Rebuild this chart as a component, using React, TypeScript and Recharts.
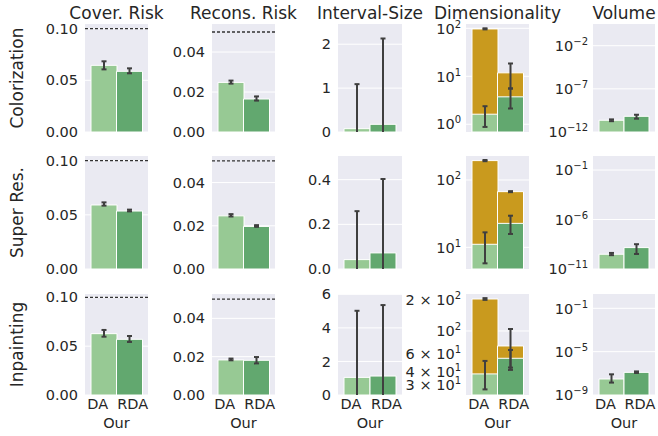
import React from 'react';
import { BarChart, Bar, XAxis, YAxis, CartesianGrid, ErrorBar, Cell, ReferenceLine } from 'recharts';

const tasks = ['Colorization', 'Super Res.', 'Inpainting'];
const metrics = ['Cover. Risk', 'Recons. Risk', 'Interval-Size', 'Dimensionality', 'Volume'];
const methods = ['DA', 'RDA'];
const groupLabel = 'Our';

// values are [task][method], CIs are [task][method] = [low, high]
const coverRisk = [[0.0645, 0.0587], [0.0591, 0.0535], [0.0628, 0.057]];
const coverRiskCI = [
  [[0.0606, 0.0684], [0.0568, 0.0616]],
  [[0.0585, 0.0615], [0.0532, 0.0548]],
  [[0.0597, 0.0666], [0.0543, 0.0604]],
];
const coverTarget = 0.1;

const reconsRisk = [[0.0248, 0.0165], [0.0246, 0.0197], [0.0183, 0.0181]];
const reconsRiskCI = [
  [[0.0242, 0.0257], [0.0157, 0.0178]],
  [[0.0243, 0.0254], [0.0195, 0.0203]],
  [[0.0181, 0.019], [0.0165, 0.0198]],
];
const reconsTarget = 0.05;

const intervalSize = [[0.076, 0.175], [0.042, 0.072], [1.05, 1.13]];
const intervalSizeCI = [
  [[-0.94, 1.09], [-1.78, 2.13]],
  [[-0.175, 0.259], [-0.259, 0.403]],
  [[-2.92, 5.02], [-3.1, 5.36]],
];

const dimension = [[1.62, 3.73], [11.1, 22.7], [38.4, 54.4]];
const dimensionCI = [
  [[0.88, 2.38], [2.13, 5.57]],
  [[5.79, 16.7], [15.8, 29.5]],
  [[27.2, 51.3], [42, 65.5]],
];
const dimensionTotal = [[97, 11.8], [194, 67.1], [204, 71.6]];
const dimensionTotalCI = [
  [[95, 100], [5.57, 18.5]],
  [[190, 198], [66, 68.3]],
  [[200, 208], [44.2, 104.5]],
];

const volume = [[2.3e-11, 6.6e-11], [3.1e-10, 1.45e-9], [3.0e-8, 1.23e-7]];
const volumeCI = [
  [[1.8e-11, 2.9e-11], [3.5e-11, 1.0e-10]],
  [[2.5e-10, 4.2e-10], [3.3e-10, 3.2e-9]],
  [[1.4e-8, 8.1e-8], [1.07e-7, 1.5e-7]],
];

// axis limits and ticks
const coverTop = [0.1045, 0.1043, 0.1034];
const reconsTop = [0.054, 0.0523, 0.0527];
const intervalTop = [2.46, 0.506, 6.02];
const dimDomain = [[0.69, 123], [4.77, 227], [24, 228]];
const volDomain = [[1e-12, 3.3], [1e-11, 2.6], [1e-9, 2.1]];

const coverTicks = [0, 0.05, 0.1];
const reconsTicks = [0, 0.02, 0.04];
const intervalTicks = [[0, 1, 2], [0, 0.2, 0.4], [0, 2, 4, 6]];
const dimTicks = [[1, 10, 100], [10, 100], [30, 40, 60, 100, 200]];
const dimGrid = [[1, 10, 100], [10, 100], [100]];
const volTicks = [[1e-12, 1e-7, 1e-2], [1e-11, 1e-6, 1e-1], [1e-9, 1e-5, 1e-1]];

// layout
const colLeft = [85, 212, 338, 466, 593];
const colWidth = [63, 63, 64, 63, 62];
const rowTop = [24, 156, 294];
const rowHeight = [108, 113, 101];
const AXW = 80;
const PAD = 8;

const INK = '#262626';
const LIGHT = '#97C994';
const DARK = '#62A86F';
const GOLD = '#C99A1E';
const ERR = '#3F3F3F';
const FONT = "'DejaVu Sans', sans-serif";

const LogTick = (props: any) => {
  const { x, y, payload } = props;
  const v = payload.value;
  const e = Math.floor(Math.log10(v) + 1e-9);
  const m = Math.round(v / Math.pow(10, e));
  const exp = e < 0 ? '\u2212' + Math.abs(e) : String(e);
  return (
    <text x={x + 2} y={y} dy="0.36em" textAnchor="end" fill={INK} fontSize={14.5}>
      {m !== 1 ? `${m} \u00d7 10` : '10'}
      <tspan dy={-6} fontSize={10}>{exp}</tspan>
    </text>
  );
};

// method labels sit a little wider apart than the bar centres
const MethodTick = (props: any) => {
  const { x, y, payload, index } = props;
  return (
    <text x={x + (index === 0 ? -6 : 3.5)} y={y} dy="0.71em" textAnchor="middle" fill={INK} fontSize={14.5}>
      {payload.value}
    </text>
  );
};

interface Series {
  values: number[];
  ci: number[][];
  colors: string[];
}

interface PanelProps {
  row: number;
  col: number;
  series: Series[];
  domain: number[];
  log?: boolean;
  ticks: number[];
  grid: number[];
  digits?: number;
  target?: number;
}

const Panel = ({ row, col, series, domain, log, ticks, grid, digits, target }: PanelProps) => {
  const isBottom = row === tasks.length - 1;
  const below = isBottom ? 45 : 10;
  const w = AXW + colWidth[col] + 4;
  const h = PAD + rowHeight[row] + below;
  const cid = `eclip-${row}-${col}`;
  const data = methods.map((name, i) => {
    const o: any = { name };
    series.forEach((s, k) => {
      o['v' + k] = s.values[i];
      o['e' + k] = [s.values[i] - s.ci[i][0], s.ci[i][1] - s.values[i]];
    });
    return o;
  });

  return (
    <div className={cid} style={{ position: 'absolute', left: colLeft[col] - AXW, top: rowTop[row] - PAD }}>
      {/* error bars are cut at the plot frame, like matplotlib */}
      <style>{`.${cid} .recharts-errorBars { clip-path: url(#${cid}); }`}</style>
      <svg width={0} height={0} style={{ position: 'absolute' }}>
        <defs>
          <clipPath id={cid} clipPathUnits="userSpaceOnUse">
            <rect x={AXW} y={PAD} width={colWidth[col]} height={rowHeight[row]} />
          </clipPath>
        </defs>
      </svg>
      <BarChart
        width={w}
        height={h}
        data={data}
        margin={{ top: PAD, right: 4, bottom: isBottom ? 0 : below, left: 0 }}
        barCategoryGap={0}
        barGap={0}
      >
        <CartesianGrid vertical={false} stroke="#fff" strokeWidth={1} fill="#EAEAF2" horizontalValues={grid} />
        {series.map((_, k) => (
          <XAxis
            key={'x' + k}
            xAxisId={k}
            dataKey="name"
            hide={!(isBottom && k === 0)}
            height={45}
            interval={0}
            padding={{ left: 6, right: 6 }}
            axisLine={false}
            tickLine={false}
            tickSize={0}
            tickMargin={4}
            tick={<MethodTick />}
            label={{ value: groupLabel, position: 'insideBottom', offset: 12, fill: INK, fontSize: 14.5 }}
          />
        ))}
        <YAxis
          type="number"
          width={AXW}
          scale={log ? 'log' : 'auto'}
          domain={domain}
          allowDataOverflow
          ticks={ticks}
          interval={0}
          axisLine={false}
          tickLine={false}
          tickSize={0}
          tickMargin={7}
          tick={log ? <LogTick /> : { fill: INK, fontSize: 14.5 }}
          tickFormatter={(v: number) => v.toFixed(digits ?? 0)}
        />
        {target !== undefined && (
          <ReferenceLine y={target} stroke="#333" strokeWidth={1.3} strokeDasharray="3 2" />
        )}
        {series.map((s, k) => (
          <Bar key={'b' + k} xAxisId={k} dataKey={'v' + k} stroke="#fff" strokeWidth={1} isAnimationActive={false}>
            {data.map((_, i) => (
              <Cell key={i} fill={s.colors[i]} />
            ))}
            <ErrorBar dataKey={'e' + k} direction="y" width={2.5} stroke={ERR} strokeWidth={2} isAnimationActive={false} />
          </Bar>
        ))}
      </BarChart>
    </div>
  );
};

const green = [LIGHT, DARK];

export default function App() {
  const panels: React.ReactNode[] = [];
  tasks.forEach((_, r) => {
    panels.push(
      <Panel key={`c${r}`} row={r} col={0} domain={[0, coverTop[r]]} ticks={coverTicks} grid={coverTicks} digits={2}
        target={coverTarget} series={[{ values: coverRisk[r], ci: coverRiskCI[r], colors: green }]} />,
      <Panel key={`r${r}`} row={r} col={1} domain={[0, reconsTop[r]]} ticks={reconsTicks} grid={reconsTicks} digits={2}
        target={reconsTarget} series={[{ values: reconsRisk[r], ci: reconsRiskCI[r], colors: green }]} />,
      <Panel key={`i${r}`} row={r} col={2} domain={[0, intervalTop[r]]} ticks={intervalTicks[r]} grid={intervalTicks[r]}
        digits={r === 1 ? 1 : 0} series={[{ values: intervalSize[r], ci: intervalSizeCI[r], colors: green }]} />,
      <Panel key={`d${r}`} row={r} col={3} log domain={dimDomain[r]} ticks={dimTicks[r]} grid={dimGrid[r]}
        series={[
          { values: dimensionTotal[r], ci: dimensionTotalCI[r], colors: [GOLD, GOLD] },
          { values: dimension[r], ci: dimensionCI[r], colors: green },
        ]} />,
      <Panel key={`v${r}`} row={r} col={4} log domain={volDomain[r]} ticks={volTicks[r]} grid={volTicks[r]}
        series={[{ values: volume[r], ci: volumeCI[r], colors: green }]} />
    );
  });

  return (
    <div style={{ position: 'absolute', left: 0, top: 0, width: 658, height: 436, background: '#fff', fontFamily: FONT, overflow: 'hidden' }}>
      {panels}
      <svg width={658} height={436} style={{ position: 'absolute', left: 0, top: 0, pointerEvents: 'none' }}>
        {metrics.map((m, c) => (
          <text key={m} x={colLeft[c] + colWidth[c] / 2} y={19} textAnchor="middle" fill={INK} fontSize={17}>
            {m}
          </text>
        ))}
        {tasks.map((t, r) => {
          const cy = rowTop[r] + rowHeight[r] / 2;
          return (
            <text key={t} x={23} y={cy} textAnchor="middle" fill={INK} fontSize={17} transform={`rotate(-90, 23, ${cy})`}>
              {t}
            </text>
          );
        })}
      </svg>
    </div>
  );
}
